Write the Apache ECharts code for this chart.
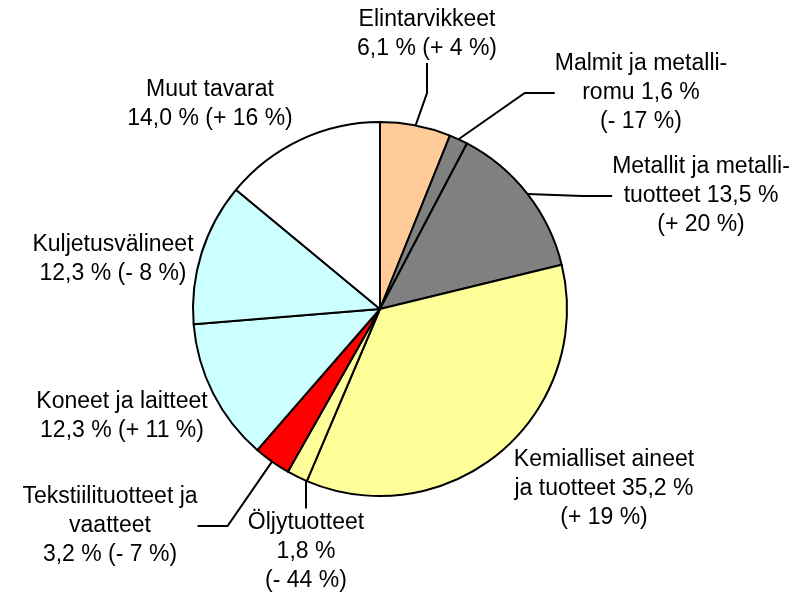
<!DOCTYPE html>
<html>
<head>
<meta charset="utf-8">
<script src="https://cdn.jsdelivr.net/npm/echarts@6/dist/echarts.min.js"></script>
<style>
  html, body { margin: 0; padding: 0; background: #fff; }
  #chart { width: 795px; height: 596px; }
</style>
</head>
<body>
<div id="chart"></div>
<script>
// Product groups, clockwise from twelve o'clock
const categories = [
  'Elintarvikkeet',
  'Malmit ja metalliromu',
  'Metallit ja metallituotteet',
  'Kemialliset aineet ja tuotteet',
  'Öljytuotteet',
  'Tekstiilituotteet ja vaatteet',
  'Koneet ja laitteet',
  'Kuljetusvälineet',
  'Muut tavarat'
];
// Share of total, %
const shares = [6.1, 1.6, 13.5, 35.2, 1.8, 3.2, 12.3, 12.3, 14.0];
// Change from previous year, %
const changes = [4, -17, 20, 19, -44, -7, 11, -8, 16];
// Label wording, {v} = share, {c} = change
const labelTemplates = [
  'Elintarvikkeet\n{v} % ({c} %)',
  'Malmit ja metalli-\nromu {v} %\n({c} %)',
  'Metallit ja metalli-\ntuotteet {v} %\n({c} %)',
  'Kemialliset aineet\nja tuotteet {v} %\n({c} %)',
  'Öljytuotteet\n{v} %\n({c} %)',
  'Tekstiilituotteet ja\nvaatteet\n{v} % ({c} %)',
  'Koneet ja laitteet\n{v} % ({c} %)',
  'Kuljetusvälineet\n{v} % ({c} %)',
  'Muut tavarat\n{v} % ({c} %)'
];
const colors = ['#FFCC99', '#808080', '#808080', '#FFFF99', '#FFFF99', '#FF0000', '#CCFFFF', '#CCFFFF', '#FFFFFF'];
const hasLeader = [true, true, true, false, true, true, false, false, false];

// Label centres in pixels
const labelPos = [
  [427, 34], [641, 93], [701, 196], [604, 489], [306, 552],
  [110, 526], [122, 416], [113, 259], [210, 104]
];

function fmtShare(v) { return v.toFixed(1).replace('.', ','); }
function fmtChange(c) { return (c < 0 ? '- ' : '+ ') + Math.abs(c); }

const chart = echarts.init(document.getElementById('chart'), null, { renderer: 'canvas' });

chart.setOption({
  animation: false,
  backgroundColor: '#ffffff',
  series: [{
    type: 'pie',
    center: [380, 309],
    radius: 187,
    startAngle: 90,
    clockwise: true,
    avoidLabelOverlap: false,
    itemStyle: { borderColor: '#000', borderWidth: 2 },
    label: {
      show: true,
      position: 'outside',
      color: '#000',
      fontFamily: 'Liberation Sans, Arial, sans-serif',
      fontSize: 23,
      lineHeight: 29,
      align: 'center',
      formatter: function (p) {
        const i = p.dataIndex;
        return labelTemplates[i]
          .replace('{v}', fmtShare(shares[i]))
          .replace('{c}', fmtChange(changes[i]));
      }
    },
    labelLine: { show: true, lineStyle: { color: '#000', width: 2 }, smooth: false },
    labelLayout: function (p) {
      const pos = labelPos[p.dataIndex];
      return { x: pos[0], y: pos[1], align: 'center', verticalAlign: 'middle' };
    },
    data: categories.map(function (name, i) {
      return {
        name: name,
        value: shares[i],
        itemStyle: { color: colors[i] },
        labelLine: { show: hasLeader[i] }
      };
    })
  }]
});
</script>
</body>
</html>
